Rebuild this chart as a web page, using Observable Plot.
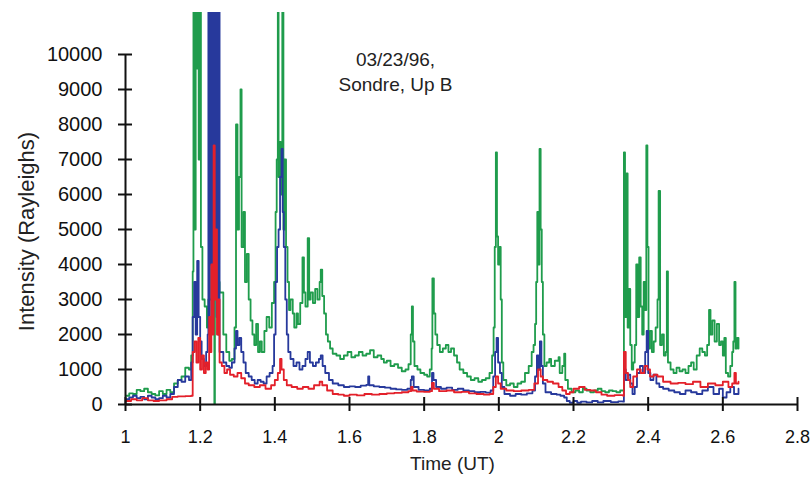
<!DOCTYPE html>
<html><head><meta charset="utf-8">
<script src="https://cdn.jsdelivr.net/npm/d3@7"></script>
<script src="https://cdn.jsdelivr.net/npm/@observablehq/plot@0.6"></script>
<style>body{margin:0;background:#fff} svg{display:block}</style>
</head><body><div id="chart"></div>
<script>
const yTicks = [0, 1000, 2000, 3000, 4000, 5000, 6000, 7000, 8000, 9000, 10000];
const xTicks = [1, 1.2, 1.4, 1.6, 1.8, 2, 2.2, 2.4, 2.6, 2.8];
const xTickLabels = ["1", "1.2", "1.4", "1.6", "1.8", "2", "2.2", "2.4", "2.6", "2.8"];
const titleLines = ["03/23/96,", "Sondre, Up B"];
const xLabel = "Time (UT)";
const yLabel = "Intensity (Rayleighs)";

// [time (UT), intensity (R)]
const green = [
[1.000,250],[1.010,320],[1.020,300],[1.030,420],[1.040,380],[1.050,450],[1.060,350],[1.070,300],[1.080,260],[1.090,380],
[1.100,300],[1.110,420],[1.120,350],[1.130,600],[1.140,700],[1.150,800],[1.160,1050],[1.170,1000],[1.176,1400],[1.180,3800],
[1.182,12000],[1.185,5000],[1.188,12000],[1.190,9600],[1.193,12000],[1.196,7000],[1.199,12000],[1.202,4500],[1.206,3000],[1.212,2800],
[1.218,2200],[1.222,3000],[1.230,5000],[1.238,0],[1.2395,4000],[1.246,3500],[1.252,3200],[1.262,2000],[1.270,1500],[1.278,1250],
[1.285,1300],[1.292,2200],[1.296,8000],[1.300,5000],[1.304,6500],[1.308,9000],[1.311,4500],[1.316,5500],[1.320,3500],[1.325,4300],
[1.330,3000],[1.335,2400],[1.340,2000],[1.345,1700],[1.350,2300],[1.355,1500],[1.360,1800],[1.365,1500],[1.372,2100],[1.378,2500],
[1.385,2200],[1.392,2900],[1.398,3500],[1.402,5500],[1.405,7000],[1.408,12000],[1.410,6500],[1.413,7500],[1.416,6000],[1.420,12000],
[1.423,5000],[1.426,7000],[1.430,4500],[1.434,3500],[1.438,2700],[1.442,3000],[1.448,2600],[1.452,2200],[1.458,2600],[1.462,2300],
[1.468,2900],[1.474,4200],[1.478,3200],[1.482,2800],[1.488,4750],[1.492,3000],[1.496,3200],[1.502,2900],[1.508,3300],[1.514,3000],
[1.520,3500],[1.523,3850],[1.527,3100],[1.532,2600],[1.537,2000],[1.542,1800],[1.548,1600],[1.555,1450],[1.565,1400],[1.575,1300],
[1.585,1400],[1.595,1500],[1.605,1350],[1.615,1400],[1.625,1500],[1.635,1400],[1.645,1450],[1.655,1550],[1.665,1350],[1.675,1400],
[1.685,1300],[1.692,1200],[1.700,1250],[1.710,1100],[1.720,1150],[1.730,1050],[1.740,950],[1.750,1000],[1.758,1150],[1.764,2000],
[1.767,2800],[1.770,1800],[1.774,1100],[1.782,1000],[1.790,900],[1.800,850],[1.808,800],[1.815,1000],[1.820,1600],[1.822,3600],
[1.826,2600],[1.830,2000],[1.835,1700],[1.842,1500],[1.850,1600],[1.858,1700],[1.865,1500],[1.872,1600],[1.880,1400],[1.888,1200],
[1.895,1000],[1.905,900],[1.915,800],[1.925,700],[1.935,750],[1.945,650],[1.955,700],[1.965,750],[1.975,900],[1.982,1400],
[1.986,2200],[1.989,4500],[1.992,7200],[1.995,4800],[1.998,4000],[2.002,4500],[2.005,3000],[2.008,1200],[2.012,700],[2.020,550],
[2.030,600],[2.040,500],[2.050,600],[2.060,650],[2.070,900],[2.080,1100],[2.088,1500],[2.093,1700],[2.097,2300],[2.100,3500],
[2.103,5500],[2.106,4000],[2.109,7300],[2.112,5000],[2.115,3500],[2.118,2000],[2.122,1100],[2.128,1200],[2.135,1300],[2.140,1100],
[2.150,1250],[2.160,1350],[2.163,900],[2.170,1100],[2.175,1450],[2.178,700],[2.185,450],[2.195,350],[2.205,400],[2.215,350],
[2.225,450],[2.235,400],[2.245,350],[2.255,400],[2.265,450],[2.275,380],[2.285,350],[2.295,400],[2.305,380],[2.315,350],
[2.325,400],[2.333,400],[2.335,7200],[2.338,2500],[2.342,6600],[2.345,2200],[2.348,3300],[2.352,1700],[2.356,1000],[2.360,1200],
[2.364,1700],[2.368,4000],[2.372,2500],[2.376,4200],[2.380,2800],[2.384,2000],[2.388,3500],[2.392,2700],[2.395,7400],[2.398,4500],
[2.401,1600],[2.405,2100],[2.410,1500],[2.415,1800],[2.420,2200],[2.425,3000],[2.428,6100],[2.432,1700],[2.437,2000],[2.442,1400],
[2.447,1500],[2.450,3800],[2.453,1200],[2.460,1000],[2.468,900],[2.476,1050],[2.484,950],[2.492,1000],[2.500,900],[2.508,1100],
[2.515,1200],[2.522,1000],[2.530,1400],[2.538,1600],[2.545,1500],[2.552,1400],[2.558,1700],[2.563,2700],[2.567,2000],[2.572,2400],
[2.578,1800],[2.584,2300],[2.590,1700],[2.595,1800],[2.600,1400],[2.604,1900],[2.608,900],[2.614,800],[2.620,1100],[2.625,1500],
[2.628,1800],[2.631,3500],[2.634,1600],[2.638,1900],[2.642,1600]
];

const blue = [
[1.000,150],[1.010,200],[1.020,250],[1.030,180],[1.040,220],[1.050,150],[1.060,250],[1.070,200],[1.080,150],[1.090,180],
[1.100,250],[1.110,200],[1.120,300],[1.130,500],[1.140,700],[1.150,650],[1.160,800],[1.170,700],[1.176,1200],[1.180,2500],
[1.184,3500],[1.188,2000],[1.192,4100],[1.196,2500],[1.200,1800],[1.204,1300],[1.210,1100],[1.216,1500],[1.220,2000],[1.222,12000],
[1.224,2500],[1.226,12000],[1.228,4000],[1.230,12000],[1.232,3000],[1.234,12000],[1.236,5000],[1.238,12000],[1.240,3500],[1.242,12000],
[1.244,2500],[1.246,12000],[1.248,2000],[1.250,12000],[1.252,1500],[1.262,1200],[1.270,1100],[1.278,1050],[1.285,1200],[1.292,1600],
[1.296,2100],[1.300,1700],[1.305,1900],[1.310,1500],[1.316,1200],[1.322,900],[1.330,800],[1.338,700],[1.346,600],[1.354,700],
[1.362,650],[1.370,600],[1.378,800],[1.386,900],[1.394,1100],[1.398,2000],[1.402,3500],[1.406,4500],[1.410,5000],[1.414,6500],
[1.418,7300],[1.421,5500],[1.424,4500],[1.428,3000],[1.432,2000],[1.436,1500],[1.442,1300],[1.450,1100],[1.458,1200],[1.466,1000],
[1.474,1100],[1.482,1300],[1.488,1500],[1.494,1200],[1.502,1100],[1.510,1200],[1.518,1300],[1.523,1400],[1.528,1100],[1.535,900],
[1.545,700],[1.555,600],[1.570,550],[1.585,500],[1.600,520],[1.615,500],[1.630,540],[1.645,560],[1.650,800],[1.653,550],
[1.665,520],[1.680,500],[1.695,480],[1.710,450],[1.725,430],[1.740,420],[1.755,450],[1.764,700],[1.767,800],[1.772,500],
[1.785,420],[1.800,400],[1.815,450],[1.821,900],[1.825,700],[1.832,500],[1.845,450],[1.860,480],[1.875,420],[1.890,450],
[1.905,400],[1.920,380],[1.935,350],[1.950,360],[1.965,340],[1.978,400],[1.985,800],[1.990,1500],[1.994,1900],[1.998,1200],
[2.003,900],[2.008,500],[2.015,300],[2.030,250],[2.045,300],[2.060,280],[2.075,320],[2.090,400],[2.097,800],[2.102,1400],
[2.106,1000],[2.110,1800],[2.114,1100],[2.118,600],[2.125,350],[2.140,300],[2.155,280],[2.165,250],[2.175,200],[2.182,100],
[2.190,50],[2.200,100],[2.210,50],[2.220,80],[2.235,60],[2.250,100],[2.265,60],[2.280,100],[2.300,70],[2.320,90],
[2.333,80],[2.335,1000],[2.340,700],[2.346,850],[2.352,600],[2.358,300],[2.364,500],[2.370,900],[2.378,1100],[2.386,900],
[2.392,1500],[2.396,2100],[2.400,900],[2.406,700],[2.414,850],[2.422,600],[2.430,500],[2.440,450],[2.455,400],[2.470,350],
[2.485,300],[2.500,400],[2.515,350],[2.530,300],[2.545,400],[2.560,500],[2.575,300],[2.590,450],[2.600,200],[2.610,350],
[2.620,500],[2.630,300],[2.642,450]
];

const red = [
[1.000,100],[1.015,150],[1.030,120],[1.045,180],[1.060,120],[1.075,100],[1.090,120],[1.110,150],[1.125,220],[1.140,230],
[1.160,240],[1.176,250],[1.180,1500],[1.185,1800],[1.190,1200],[1.195,1900],[1.200,1000],[1.205,1400],[1.210,900],[1.215,1200],
[1.220,1000],[1.224,2500],[1.227,1500],[1.230,4000],[1.233,2000],[1.236,7400],[1.239,3000],[1.242,5000],[1.245,2000],[1.248,3000],
[1.252,1200],[1.258,1100],[1.265,900],[1.272,1000],[1.280,850],[1.290,800],[1.300,900],[1.310,750],[1.320,600],[1.330,550],
[1.345,500],[1.360,550],[1.375,450],[1.390,550],[1.400,700],[1.408,900],[1.414,1300],[1.418,1000],[1.424,700],[1.432,550],
[1.445,500],[1.460,450],[1.475,500],[1.490,450],[1.505,550],[1.520,650],[1.527,550],[1.540,400],[1.555,300],[1.570,280],
[1.585,250],[1.600,280],[1.620,260],[1.640,300],[1.660,280],[1.680,300],[1.700,320],[1.720,330],[1.740,350],[1.758,380],
[1.765,500],[1.769,400],[1.780,370],[1.800,360],[1.815,380],[1.821,620],[1.826,450],[1.840,380],[1.860,400],[1.880,350],
[1.900,360],[1.920,320],[1.940,300],[1.960,280],[1.975,300],[1.985,500],[1.992,800],[1.998,600],[2.005,450],[2.020,400],
[2.040,380],[2.060,400],[2.080,420],[2.095,600],[2.105,1000],[2.112,800],[2.118,700],[2.130,650],[2.145,600],[2.160,500],
[2.170,400],[2.180,300],[2.190,350],[2.200,450],[2.215,500],[2.230,420],[2.245,400],[2.260,350],[2.275,280],[2.290,250],
[2.310,270],[2.333,250],[2.335,1500],[2.340,900],[2.346,700],[2.352,500],[2.360,800],[2.370,1000],[2.380,900],[2.390,1100],
[2.398,1000],[2.405,800],[2.415,850],[2.425,800],[2.440,650],[2.460,600],[2.480,620],[2.500,580],[2.520,650],[2.540,500],
[2.560,600],[2.580,550],[2.600,650],[2.615,500],[2.625,600],[2.631,900],[2.635,600],[2.642,650]
];

const rows = (arr) => arr.map(([t, v]) => ({t, v}));
const lineOpts = {x: "t", y: "v", strokeWidth: 1.8, curve: "step-after", clip: true};

const chart = Plot.plot({
  width: 810,
  height: 478,
  marginLeft: 125,
  marginRight: 13,
  marginTop: 12,
  marginBottom: 74,
  style: {fontFamily: "'Liberation Sans', Arial, sans-serif", background: "#fff", color: "#111", overflow: "visible"},
  x: {domain: [1, 2.8]},
  y: {domain: [0, 11200]},
  marks: [
    Plot.line(rows(green), {...lineOpts, stroke: "#1f9c4c"}),
    Plot.line(rows(blue), {...lineOpts, stroke: "#27399c"}),
    Plot.line(rows(red), {...lineOpts, stroke: "#e3202a"}),
    Plot.ruleY([0], {stroke: "#111", strokeWidth: 2}),
    Plot.ruleX([1], {y1: 0, y2: 10000, stroke: "#111", strokeWidth: 2}),
    Plot.axisY({ticks: yTicks, tickSize: 14, dx: 7, tickPadding: 16, fontSize: 20, strokeWidth: 2, label: null, tickFormat: d => String(d)}),
    Plot.axisX({ticks: xTicks, tickSize: 14, dy: -7, tickPadding: 19, fontSize: 18, strokeWidth: 2, label: null, tickFormat: (d, i) => xTickLabels[i]}),
    Plot.text([yLabel], {frameAnchor: "left", textAnchor: "middle", rotate: -90, dx: -99, dy: 23, fontSize: 22, fill: "#222"}),
    Plot.text([xLabel], {frameAnchor: "bottom", textAnchor: "middle", dx: -9, dy: 65, fontSize: 19, fill: "#222"}),
    Plot.text([titleLines.join("\n")], {frameAnchor: "top-left", dx: 270, dy: 35, lineAnchor: "top", textAnchor: "middle", lineHeight: 1.35, fontSize: 19, fill: "#222"})
  ]
});
document.getElementById("chart").append(chart);
</script>
</body></html>
